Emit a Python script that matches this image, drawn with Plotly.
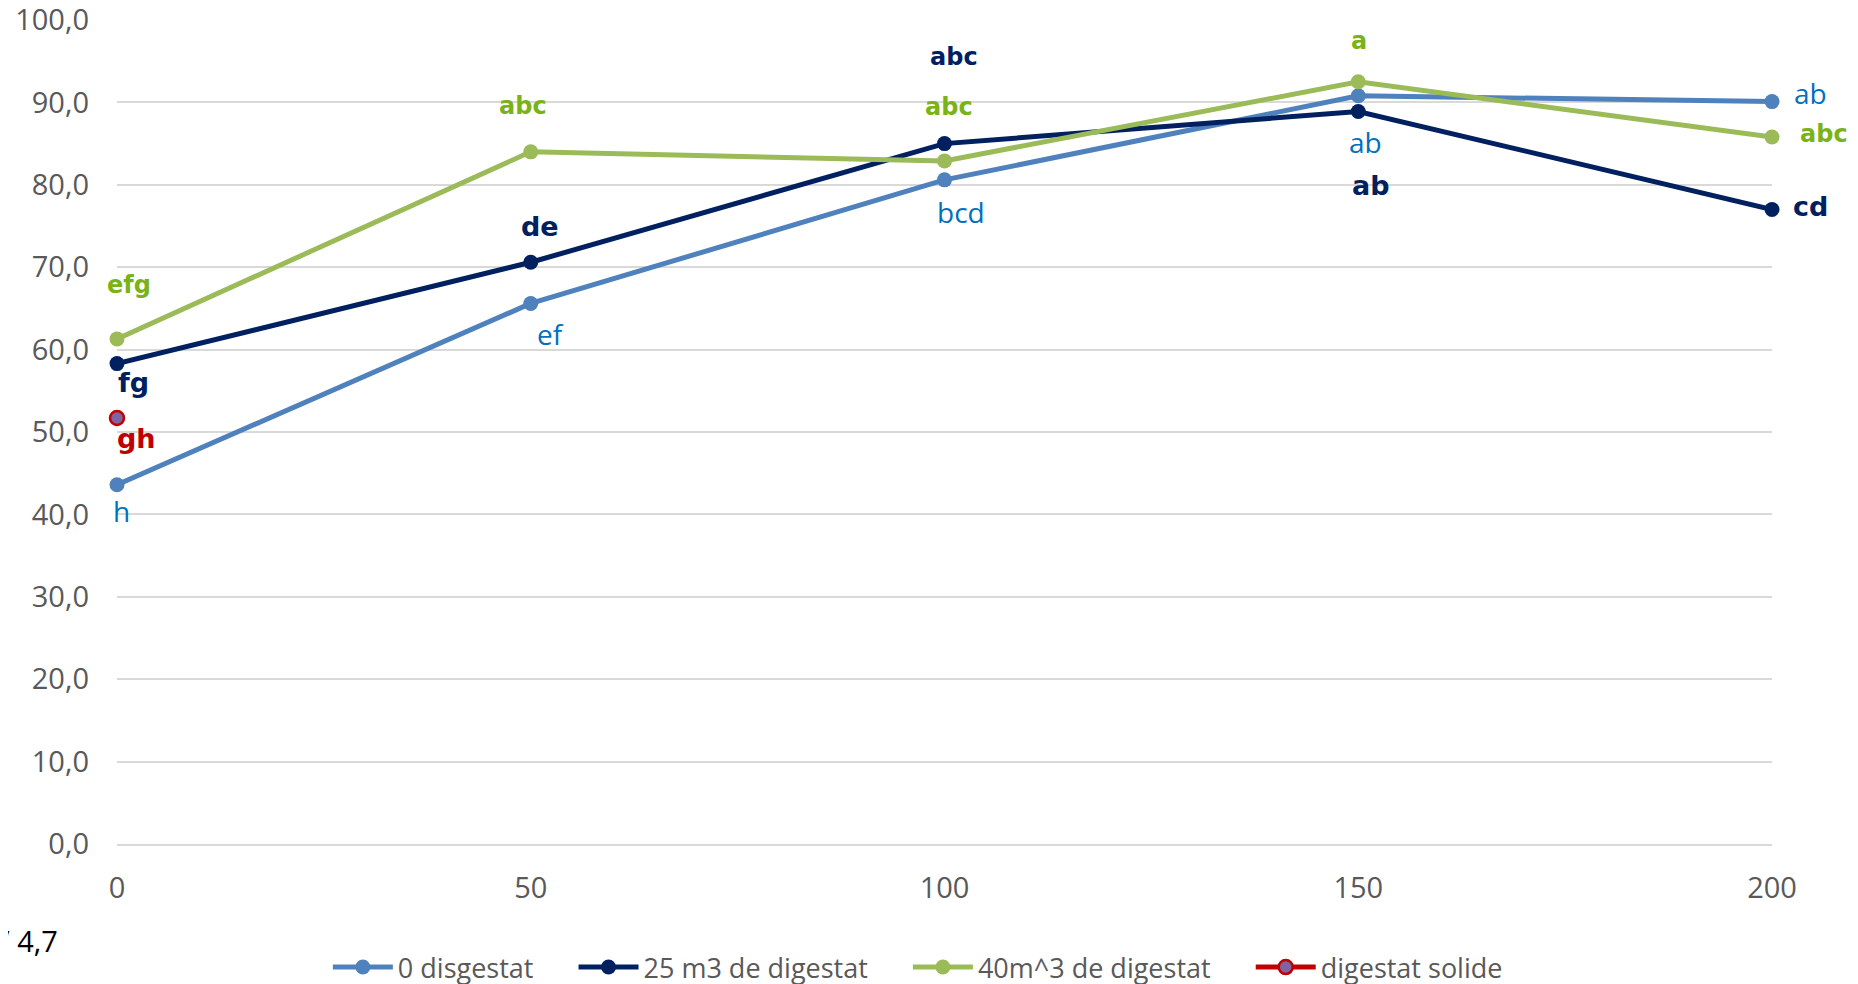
import plotly.graph_objects as go

x_vals = [0, 50, 100, 150, 200]
y_zero = [43.6, 65.6, 80.6, 90.8, 90.1]
y_25 = [58.3, 70.6, 85.0, 88.9, 77.0]
y_40 = [61.3, 84.0, 82.9, 92.5, 85.8]
x_solide = [0]
y_solide = [51.7]

names = ["0 disgestat", "25 m3 de digestat", "40m^3 de digestat", "digestat solide"]

# significance letters (text, x, y in data units)
lab_zero_text = ["h", "ef", "bcd", "ab", "ab"]
lab_zero_x = [0.6, 52.4, 102.0, 150.9, 204.6]
lab_zero_y = [40.4, 61.9, 76.7, 85.2, 91.2]
lab_25_text = ["fg", "de", "abc", "ab", "cd"]
lab_25_x = [2.0, 51.1, 101.2, 151.6, 204.7]
lab_25_y = [56.0, 75.0, 95.5, 79.9, 77.4]
lab_40_text = ["efg", "abc", "abc", "a", "abc"]
lab_40_x = [1.4, 49.1, 100.6, 150.1, 206.3]
lab_40_y = [67.9, 89.6, 89.4, 97.4, 86.2]
lab_sol_text = ["gh"]
lab_sol_x = [2.4]
lab_sol_y = [49.2]

x_ticks = [0, 50, 100, 150, 200]
y_ticks = [0, 10, 20, 30, 40, 50, 60, 70, 80, 90, 100]
y_tick_text = ["0,0", "10,0", "20,0", "30,0", "40,0", "50,0", "60,0", "70,0", "80,0", "90,0", "100,0"]

C_BLUE = "#4F81BD"
C_NAVY = "#002060"
C_GREEN = "#9BBB59"
C_RED = "#C00000"
C_PURPLE = "#8064A2"

X_MIN, X_MAX = 0, 200
PAD = "\u00a0" * 5

fig = go.Figure()
fig.add_trace(go.Scatter(x=x_vals, y=y_zero, name=names[0] + PAD, mode="lines+markers",
                         cliponaxis=False,
                         line=dict(color=C_BLUE, width=5), marker=dict(color=C_BLUE, size=15)))
fig.add_trace(go.Scatter(x=x_vals, y=y_25, name=names[1] + PAD, mode="lines+markers",
                         cliponaxis=False,
                         line=dict(color=C_NAVY, width=5), marker=dict(color=C_NAVY, size=15)))
fig.add_trace(go.Scatter(x=x_vals, y=y_40, name=names[2] + PAD, mode="lines+markers",
                         cliponaxis=False,
                         line=dict(color=C_GREEN, width=5), marker=dict(color=C_GREEN, size=15)))
fig.add_trace(go.Scatter(x=x_solide, y=y_solide, name=names[3], mode="lines+markers",
                         cliponaxis=False,
                         line=dict(color=C_RED, width=5),
                         marker=dict(color=C_PURPLE, size=14, line=dict(color=C_RED, width=2.5))))

annotations = []
def add_labels(texts, xs, ys, color, bold, size, small=None):
    for t, xx, yy in zip(texts, xs, ys):
        s = size
        if small and t in small:
            s = small[t]
        annotations.append(dict(x=(xx - X_MIN) / (X_MAX - X_MIN), y=yy, xref="paper", yref="y",
                                text=f"<b>{t}</b>" if bold else t,
                                showarrow=False, xanchor="center", yanchor="middle",
                                font=dict(color=color, size=s,
                                          family="DejaVu Sans" if bold else "Open Sans")))

add_labels(lab_zero_text, lab_zero_x, lab_zero_y, "#0070C0", False, 28)
add_labels(lab_25_text, lab_25_x, lab_25_y, C_NAVY, True, 27, small={"abc": 24})
add_labels(lab_40_text, lab_40_x, lab_40_y, "#7AB317", True, 24)
add_labels(lab_sol_text, lab_sol_x, lab_sol_y, C_RED, True, 27)

annotations.append(dict(x=-0.0724, y=-0.117, xref="paper", yref="paper", text="/ 4,7", showarrow=False,
                        xanchor="left", yanchor="middle",
                        font=dict(color="#000000", size=29, family="Open Sans")))

fig.update_layout(
    width=1858, height=984,
    margin=dict(l=109, r=94, t=12, b=148),
    plot_bgcolor="white", paper_bgcolor="white",
    font=dict(family="Open Sans", color="#595959", size=26),
    showlegend=True,
    legend=dict(orientation="h", xref="container", yref="container", x=0.4897, y=0.0,
                xanchor="center", yanchor="bottom", font=dict(size=27, color="#595959"),
                itemwidth=60, tracegroupgap=0),
    annotations=annotations,
)
fig.update_xaxes(range=[X_MIN, X_MAX], tickvals=x_ticks, ticktext=[str(v) for v in x_ticks],
                 showgrid=False, zeroline=False, showline=True, linecolor="#D9D9D9", linewidth=1.5,
                 ticks="", ticklabelstandoff=17, automargin=False, ticklabeloverflow="allow",
                 tickfont=dict(size=29, color="#595959"))
fig.update_yaxes(range=[0, 100], tickvals=y_ticks, ticktext=y_tick_text,
                 showgrid=True, gridcolor="#D9D9D9", gridwidth=1.5, zeroline=False,
                 showline=False, ticks="", ticklabelstandoff=27, automargin=False,
                 ticklabeloverflow="allow",
                 tickfont=dict(size=29, color="#595959"))

fig.write_html("out.html")
